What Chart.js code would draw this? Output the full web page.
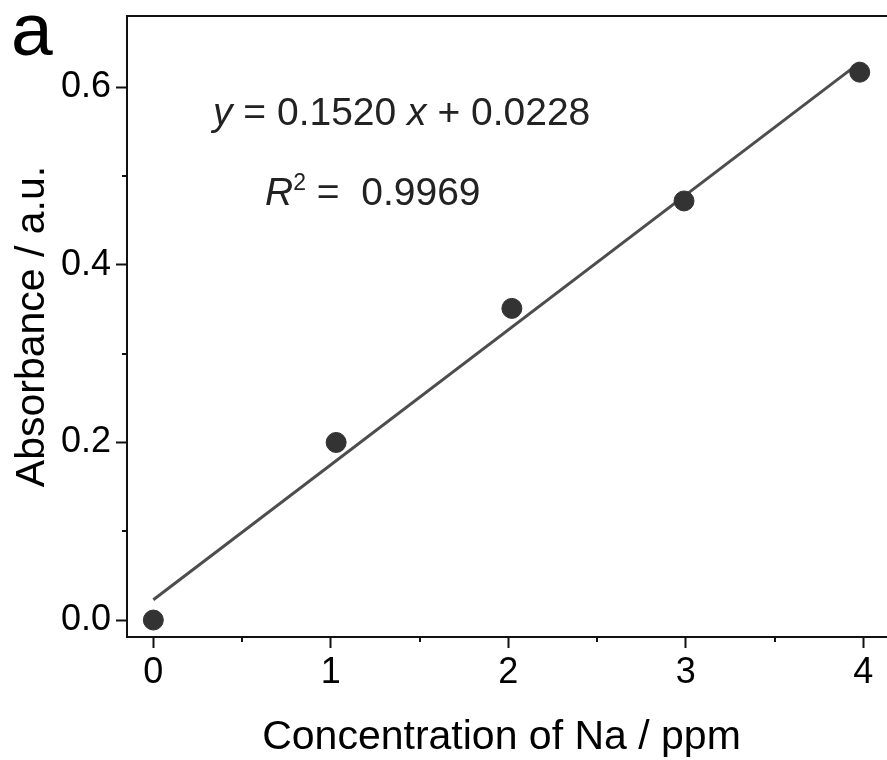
<!DOCTYPE html>
<html lang="en">
<head>
  <meta charset="UTF-8" />
  <title>Na calibration curve</title>
  <style>
    html, body { margin: 0; padding: 0; background: #fff; }
    #wrap { width: 887px; height: 760px; }
  </style>
</head>
<body>
<div id="wrap"><canvas id="calib"></canvas></div>

<script src="https://cdn.jsdelivr.net/npm/chart.js@4"></script>
<script>
// measured standards
const concNa = [0, 1.03, 2.02, 2.99, 3.98];
const absorbance = [0.000, 0.200, 0.351, 0.472, 0.617];

// linear fit shown on the plot
const fitSlope = 0.1520;
const fitIntercept = 0.0228;
const fitR2 = 0.9969;
const fitFrom = 0;
const fitTo = 3.98;

const xTicks = [0, 0.5, 1, 1.5, 2, 2.5, 3, 3.5, 4];
const yTicks = [0, 0.1, 0.2, 0.3, 0.4, 0.5, 0.6];

const FONT = "'Liberation Sans', Arial, sans-serif";
const INK = '#111';

const isMajorX = v => Math.abs(v - Math.round(v)) < 1e-6;
const isMajorY = v => Math.abs(v * 5 - Math.round(v * 5)) < 1e-6;

// frame, minor ticks, equation text and panel letter
const decor = {
  id: 'decor',
  afterDraw(chart) {
    const { ctx, chartArea: a, scales } = chart;
    ctx.save();
    ctx.strokeStyle = INK;
    ctx.lineWidth = 2;
    ctx.beginPath();
    ctx.moveTo(chart.width, a.top);
    ctx.lineTo(a.left, a.top);
    ctx.lineTo(a.left, a.bottom);
    ctx.lineTo(chart.width, a.bottom);
    ctx.stroke();

    // short minor ticks
    ctx.beginPath();
    xTicks.filter(v => !isMajorX(v)).forEach(v => {
      const px = Math.round(scales.x.getPixelForValue(v));
      ctx.moveTo(px, a.bottom);
      ctx.lineTo(px, a.bottom + 5);
    });
    yTicks.filter(v => !isMajorY(v)).forEach(v => {
      const py = Math.round(scales.y.getPixelForValue(v));
      ctx.moveTo(a.left, py);
      ctx.lineTo(a.left - 5, py);
    });
    ctx.stroke();

    ctx.fillStyle = '#222';
    ctx.textBaseline = 'alphabetic';
    ctx.textAlign = 'left';

    // y = 0.1520 x + 0.0228
    let x = 213;
    const put = (txt, font, y) => {
      ctx.font = font;
      ctx.fillText(txt, x, y);
      x += ctx.measureText(txt).width;
    };
    const up = '39px ' + FONT, it = 'italic 39px ' + FONT;
    put('y', it, 125);
    put(' = ' + fitSlope.toFixed(4) + ' ', up, 125);
    put('x', it, 125);
    put(' + ' + fitIntercept.toFixed(4), up, 125);

    // R² =  0.9969
    x = 265;
    put('R', it, 205);
    put('2', '23px ' + FONT, 190);
    put(' =  ' + fitR2.toFixed(4), up, 205);

    ctx.fillStyle = '#000';
    ctx.font = '75px ' + FONT;
    ctx.fillText('a', 11, 55);
    ctx.restore();
  }
};

new Chart(document.getElementById('calib'), {
  type: 'scatter',
  data: {
    datasets: [
      {
        type: 'line',
        data: [fitFrom, fitTo].map(v => ({ x: v, y: fitIntercept + fitSlope * v })),
        borderColor: '#4d4d4d',
        borderWidth: 3,
        pointRadius: 0,
        fill: false,
        order: 2
      },
      {
        data: concNa.map((c, i) => ({ x: c, y: absorbance[i] })),
        backgroundColor: '#333',
        borderColor: '#333',
        pointRadius: 10,
        pointHoverRadius: 10,
        order: 1
      }
    ]
  },
  options: {
    responsive: true,
    maintainAspectRatio: false,
    animation: false,
    events: [],
    layout: { padding: { left: 0, top: 16, right: 0, bottom: 0 } },
    plugins: { legend: { display: false }, tooltip: { enabled: false } },
    scales: {
      x: {
        type: 'linear',
        min: -0.1484,
        max: 4.0716,
        afterBuildTicks: s => { s.ticks = xTicks.map(v => ({ value: v })); },
        afterFit: s => { s.height = 123; s.paddingLeft = 0; s.paddingRight = 0; },
        border: { display: false },
        grid: {
          drawOnChartArea: false,
          tickLength: 11,
          tickWidth: 2,
          tickColor: c => isMajorX(c.tick.value) ? INK : 'rgba(0,0,0,0)'
        },
        ticks: {
          padding: 3,
          color: '#000',
          font: { family: FONT, size: 36 },
          maxRotation: 0,
          autoSkip: false,
          callback: v => isMajorX(v) ? String(Math.round(v)) : ''
        },
        title: {
          display: true,
          text: 'Concentration of Na / ppm',
          color: '#000',
          font: { family: FONT, size: 41, lineHeight: 1.0 },
          padding: { top: 0, bottom: 2 }
        }
      },
      y: {
        type: 'linear',
        min: -0.0191,
        max: 0.6803,
        afterBuildTicks: s => { s.ticks = yTicks.map(v => ({ value: v })); },
        afterFit: s => { s.width = 127; s.paddingTop = 0; s.paddingBottom = 0; },
        border: { display: false },
        grid: {
          drawOnChartArea: false,
          tickLength: 11,
          tickWidth: 2,
          tickColor: c => isMajorY(c.tick.value) ? INK : 'rgba(0,0,0,0)'
        },
        ticks: {
          padding: 5,
          color: '#000',
          font: { family: FONT, size: 36 },
          autoSkip: false,
          callback: v => isMajorY(v) ? v.toFixed(1) : ''
        },
        title: {
          display: true,
          text: 'Absorbance / a.u.',
          color: '#000',
          font: { family: FONT, size: 41, lineHeight: 1.0 },
          padding: { top: 12, bottom: 0 }
        }
      }
    }
  },
  plugins: [decor]
});
</script>
</body>
</html>
